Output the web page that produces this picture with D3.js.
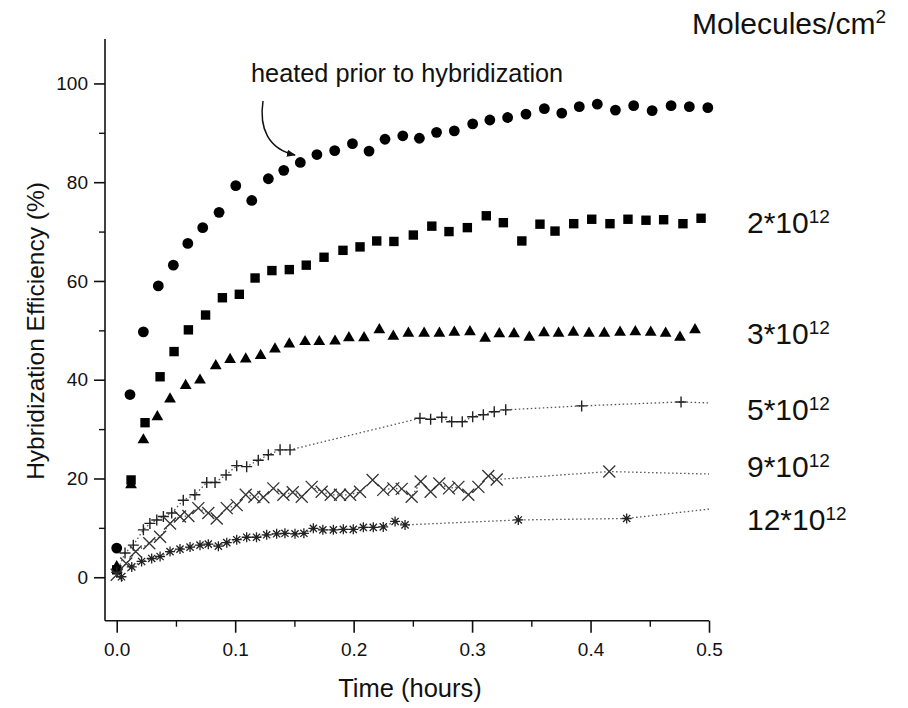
<!DOCTYPE html>
<html><head><meta charset="utf-8">
<script src="https://cdn.jsdelivr.net/npm/d3@7"></script>
<style>body{margin:0;background:#fff} text{font-family:"Liberation Sans",Arial,Helvetica,sans-serif;fill:#111}</style>
</head><body><svg id="c" width="908" height="708"></svg>
<script>
// ---- data (time in hours, hybridization efficiency in %) ----
const heated = [[0,5.9],[0.0112,37.0],[0.0225,49.7],[0.0351,59.0],[0.0478,63.2],[0.060,67.6],[0.0726,70.8],[0.0864,73.9],[0.1005,79.3],[0.114,76.3],[0.128,80.7],[0.141,82.4],[0.155,84.0],[0.169,85.6],[0.184,86.4],[0.199,87.8],[0.213,86.3],[0.2265,88.7],[0.2415,89.4],[0.2555,88.9],[0.270,90.1],[0.285,90.4],[0.3005,91.8],[0.315,92.6],[0.330,93.1],[0.3455,93.8],[0.361,94.9],[0.3757,94.0],[0.3905,95.3],[0.4057,95.8],[0.421,94.6],[0.4364,95.5],[0.452,94.5],[0.468,95.5],[0.4834,95.3],[0.499,95.1]];
const d2e12 = [[0,1.5],[0.0121,19.7],[0.0239,31.3],[0.0366,40.6],[0.0484,45.7],[0.0605,50.1],[0.075,53.1],[0.0892,56.6],[0.1035,57.3],[0.1168,60.6],[0.131,62.1],[0.1457,62.3],[0.160,63.2],[0.175,64.8],[0.191,66.2],[0.2054,66.9],[0.2195,68.1],[0.234,68.0],[0.2504,69.3],[0.266,71.1],[0.2805,70.0],[0.296,70.8],[0.312,73.2],[0.3264,71.8],[0.342,68.1],[0.3573,71.5],[0.370,70.1],[0.3858,71.6],[0.401,72.5],[0.4164,71.6],[0.4316,72.5],[0.4468,72.3],[0.4617,72.4],[0.478,71.6],[0.4933,72.7]];
const d3e12 = [[0,2.1],[0.0121,18.7],[0.0225,27.8],[0.0343,32.5],[0.045,36.1],[0.0582,38.8],[0.0703,39.9],[0.0836,42.8],[0.0957,44.1],[0.1089,44.2],[0.1215,44.9],[0.1336,46.2],[0.1457,47.2],[0.159,47.7],[0.171,47.7],[0.1843,47.8],[0.196,48.5],[0.2088,48.5],[0.2217,50.1],[0.2335,48.8],[0.2462,49.4],[0.2595,49.4],[0.2724,49.4],[0.285,49.6],[0.2982,49.7],[0.311,48.4],[0.323,49.3],[0.3354,49.3],[0.3483,48.6],[0.3607,49.5],[0.373,49.4],[0.3855,49.6],[0.3987,49.4],[0.4116,49.4],[0.4249,49.6],[0.4378,49.7],[0.4508,49.6],[0.4634,49.4],[0.4755,48.6],[0.4882,50.1]];
const d5e12 = [[0,1.0],[0.007,4.9],[0.014,6.5],[0.0225,9.6],[0.028,10.9],[0.0338,11.6],[0.0394,12.3],[0.0464,13.0],[0.0562,15.6],[0.066,16.7],[0.076,19.2],[0.083,19.2],[0.0923,20.7],[0.1013,22.6],[0.1097,22.4],[0.1195,23.7],[0.128,24.8],[0.1379,25.8],[0.1463,25.8],[0.256,32.2],[0.265,32.0],[0.2744,32.4],[0.2828,31.5],[0.2917,31.5],[0.3005,32.5],[0.3095,32.9],[0.3187,33.5],[0.3284,33.9],[0.3925,34.7],[0.4764,35.5]];
const d9e12 = [[0,0.5],[0.008,2.8],[0.016,5.2],[0.0275,6.9],[0.0366,8.2],[0.045,10.9],[0.0534,12.3],[0.0605,12.4],[0.0689,14.0],[0.0773,13.0],[0.0844,11.9],[0.0929,14.0],[0.1013,14.6],[0.1089,16.7],[0.1162,16.3],[0.1238,16.2],[0.1322,18.0],[0.1407,16.7],[0.1486,17.2],[0.1562,16.3],[0.1646,18.3],[0.173,17.3],[0.1807,16.7],[0.1885,16.7],[0.197,16.7],[0.2054,17.3],[0.216,19.7],[0.225,17.7],[0.2335,18.0],[0.2406,17.9],[0.249,16.3],[0.2566,19.4],[0.265,17.3],[0.2723,19.0],[0.2805,18.0],[0.2884,18.3],[0.2968,16.7],[0.3053,18.3],[0.3137,20.5],[0.3208,19.8],[0.4158,21.4]];
const d12e12 = [[0.004,0.1],[0.0127,2.1],[0.021,3.2],[0.0295,3.8],[0.0366,4.2],[0.045,5.2],[0.0534,5.7],[0.0619,6.1],[0.0703,6.5],[0.0773,6.7],[0.0858,6.3],[0.0929,7.0],[0.1013,7.6],[0.1097,8.1],[0.118,8.1],[0.1266,8.6],[0.135,8.8],[0.142,8.9],[0.1505,8.8],[0.158,8.9],[0.166,9.9],[0.174,9.6],[0.1829,9.6],[0.1913,9.7],[0.1997,9.7],[0.2082,10.1],[0.2166,10.1],[0.225,10.2],[0.235,11.3],[0.2434,10.6],[0.339,11.6],[0.4305,11.9]];
// dotted trend lines: value at t = 0.5 for 5e12, 9e12, 12e12
const trendEnd = [35.3, 20.9, 13.8];
const xTicks = [0, 0.1, 0.2, 0.3, 0.4, 0.5];
const yTicks = [0, 20, 40, 60, 80, 100];
const seriesLabels = ["2*10", "3*10", "5*10", "9*10", "12*10"];
const labelExp = "12";

// ---- layout ----
const svg = d3.select("#c");
const x = d3.scaleLinear().domain([-0.0099, 0.5]).range([105, 709]);
const y = d3.scaleLinear().domain([-8.8, 109]).range([620.7, 39]);
const FONT = '"Liberation Sans",Arial,sans-serif';

// axes
const xAxis = d3.axisBottom(x).tickValues(xTicks).tickFormat(d3.format(".1f")).tickSize(12).tickSizeOuter(0).tickPadding(10);
const gx = svg.append("g").attr("transform", "translate(0,620.7)").call(xAxis);
gx.select(".domain").attr("d", `M${x.range()[0]},0H${x.range()[1]}`);
gx.selectAll("text").attr("font-size", 19).attr("font-family", FONT).attr("fill", "#222");
gx.selectAll("line,path").attr("stroke", "#111").attr("stroke-width", 1.6);
const xMinor = d3.axisBottom(x).tickValues([0.05, 0.15, 0.25, 0.35, 0.45]).tickSize(6).tickFormat("").tickSizeOuter(0);
const gxm = svg.append("g").attr("transform", "translate(0,620.7)").call(xMinor);
gxm.select(".domain").remove();
gxm.selectAll("line").attr("stroke", "#111").attr("stroke-width", 1.4);

const yAxis = d3.axisLeft(y).tickValues(yTicks).tickSize(11).tickSizeOuter(0).tickPadding(6);
const gy = svg.append("g").attr("transform", "translate(105,0)").call(yAxis);
gy.select(".domain").attr("d", `M0,${y.range()[0]}V${y.range()[1]}`);
gy.selectAll("text").attr("font-size", 19).attr("font-family", FONT).attr("fill", "#222");
gy.selectAll("line,path").attr("stroke", "#111").attr("stroke-width", 1.6);
const yMinor = d3.axisLeft(y).tickValues([10, 30, 50, 70, 90]).tickSize(6).tickFormat("").tickSizeOuter(0);
const gym = svg.append("g").attr("transform", "translate(105,0)").call(yMinor);
gym.select(".domain").remove();
gym.selectAll("line").attr("stroke", "#111").attr("stroke-width", 1.4);

// axis titles
svg.append("text").attr("x", 410).attr("y", 697).attr("text-anchor", "middle").attr("font-size", 25.5).attr("fill", "#222").text("Time (hours)");
svg.append("text").attr("transform", "translate(44,331) rotate(-90)").attr("text-anchor", "middle").attr("font-size", 24.5).attr("fill", "#222").text("Hybridization Efficiency (%)");

// dotted trend lines
const line = d3.line().x(d => x(d[0])).y(d => y(d[1])).curve(d3.curveLinear);
[d5e12, d9e12, d12e12].forEach((s, i) => {
  const pts = s.concat([[0.5, trendEnd[i]]]);
  svg.append("path").attr("d", line(pts)).attr("fill", "none")
    .attr("stroke", "#555").attr("stroke-width", 1.3).attr("stroke-dasharray", "1.5,2.5");
});

// markers
const g = svg.append("g");
g.selectAll(".c").data(heated).join("circle").attr("cx", d => x(d[0])).attr("cy", d => y(d[1])).attr("r", 5.4).attr("fill", "#000");
g.selectAll(".s").data(d2e12).join("rect").attr("x", d => x(d[0]) - 4.7).attr("y", d => y(d[1]) - 4.7).attr("width", 9.4).attr("height", 9.4).attr("fill", "#000");
const tri = d3.symbol().type(d3.symbolTriangle).size(60);
g.selectAll(".t").data(d3e12).join("path").attr("d", tri).attr("transform", d => `translate(${x(d[0])},${y(d[1])})`).attr("fill", "#000");
const plusPath = "M-5.5,0H5.5M0,-5.5V5.5";
g.selectAll(".p").data(d5e12).join("path").attr("d", plusPath).attr("transform", d => `translate(${x(d[0])},${y(d[1])})`).attr("stroke", "#222").attr("stroke-width", 1.4).attr("fill", "none");
const crossPath = "M-6,-6L6,6M-6,6L6,-6";
g.selectAll(".x").data(d9e12).join("path").attr("d", crossPath).attr("transform", d => `translate(${x(d[0])},${y(d[1])})`).attr("stroke", "#333").attr("stroke-width", 1.3).attr("fill", "none");
const starPath = "M-5,0H5M0,-5V5M-3.6,-3.6L3.6,3.6M-3.6,3.6L3.6,-3.6";
g.selectAll(".a").data(d12e12).join("path").attr("d", starPath).attr("transform", d => `translate(${x(d[0])},${y(d[1])})`).attr("stroke", "#222").attr("stroke-width", 1.3).attr("fill", "none");

// annotation
svg.append("defs").append("marker").attr("id", "ah").attr("viewBox", "0 0 10 10").attr("refX", 9).attr("refY", 5)
  .attr("markerWidth", 9).attr("markerHeight", 9).attr("markerUnits", "userSpaceOnUse").attr("orient", "auto")
  .append("path").attr("d", "M0,1L10,5L0,9Z").attr("fill", "#111");
svg.append("text").attr("x", 251).attr("y", 82).attr("font-size", 25.3).attr("fill", "#222").text("heated prior to hybridization");
svg.append("path").attr("d", "M263,101C259,128 268,149 295,155").attr("fill", "none").attr("stroke", "#111").attr("stroke-width", 1.5).attr("marker-end", "url(#ah)");

// right-side labels
const hdr = svg.append("text").attr("x", 692).attr("y", 34).attr("font-size", 30).attr("fill", "#000");
hdr.append("tspan").text("Molecules/cm");
hdr.append("tspan").attr("font-size", 19).attr("dy", -11).text("2");
const labBase = [233, 344, 420, 477, 530];
seriesLabels.forEach((t, i) => {
  const tx = svg.append("text").attr("x", 747).attr("y", labBase[i]).attr("font-size", 30).attr("fill", "#000");
  tx.append("tspan").text(t);
  tx.append("tspan").attr("font-size", 19).attr("dy", -10).text(labelExp);
});
</script></body></html>
